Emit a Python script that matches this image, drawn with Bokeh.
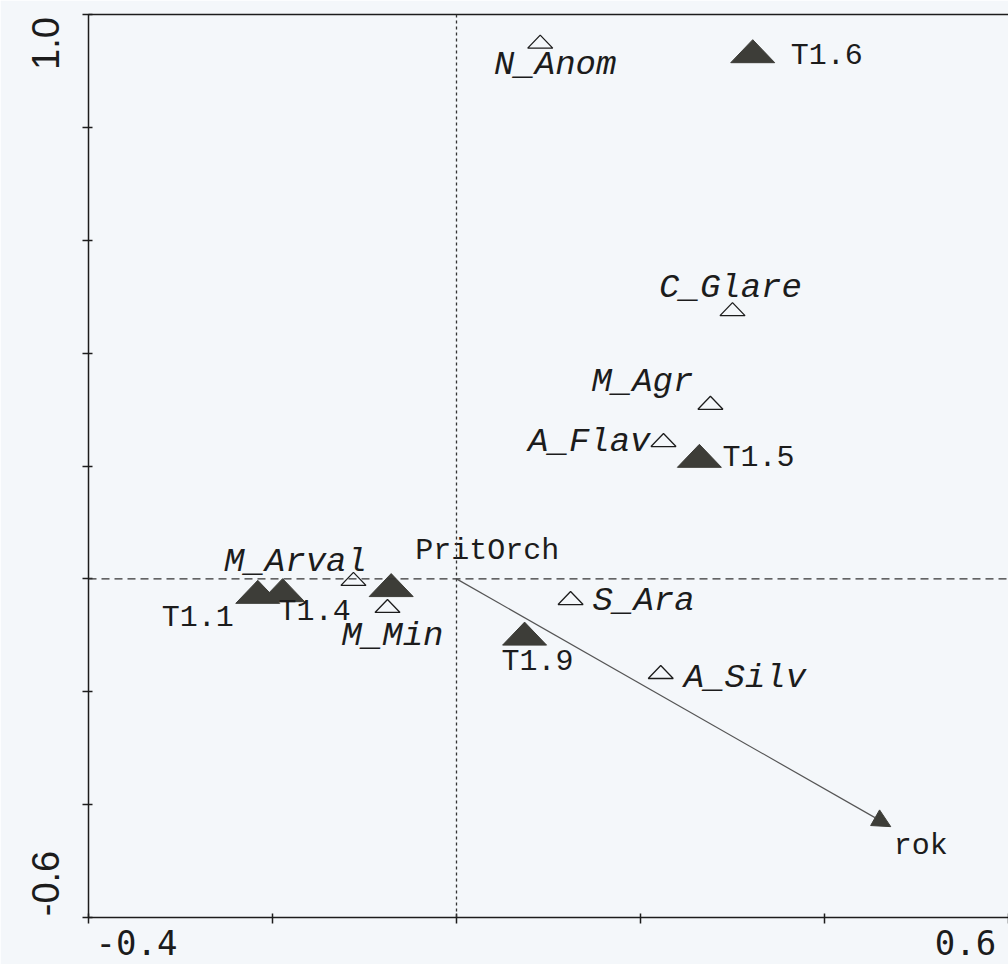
from bokeh.plotting import figure
from bokeh.models import (Range1d, FixedTicker, LinearAxis, Span, Arrow,
                          NormalHead, ColumnDataSource)
from bokeh.core.properties import value
from bokeh.embed import file_html
from bokeh.resources import INLINE

# ---------------- data ----------------
sample_names = ["T1.1", "T1.4", "PritOrch", "T1.9", "T1.5", "T1.6"]
sample_x = [-0.216, -0.189, -0.071, 0.074, 0.264, 0.322]
sample_y = [-0.023, -0.020, -0.011, -0.097, 0.218, 0.935]

species_names = ["N_Anom", "C_Glare", "M_Agr", "A_Flav", "S_Ara", "A_Silv", "M_Arval", "M_Min"]
species_x = [0.091, 0.300, 0.276, 0.225, 0.124, 0.222, -0.112, -0.075]
species_y = [0.952, 0.478, 0.312, 0.246, -0.034, -0.165, 0.000, -0.048]

env_name = ["rok"]
env_x = [0.472]
env_y = [-0.439]

x_ticks = [-0.4, -0.2, 0.0, 0.2, 0.4, 0.6]
y_ticks = [-0.6, -0.4, -0.2, 0.0, 0.2, 0.4, 0.6, 0.8, 1.0]
x_tick_labels = ["-0.4", "0.6"]
x_tick_label_at = [-0.4, 0.6]
y_tick_labels = ["-0.6", "1.0"]
y_tick_label_at = [-0.6, 1.0]

# ---------------- layout / style (pixels) ----------------
BG = "#f4f7fa"
INK = "#1c1c1c"
FILL = "#3d3d38"
X0, X1, Y0, Y1 = -0.4, 0.6, -0.6, 1.0
FRAME_W, FRAME_H = 920, 903
px_x = (X1 - X0) / FRAME_W
px_y = (Y1 - Y0) / FRAME_H

# tick labels are pushed inwards from the frame ends (pixel shifts)
x_label_shift = [48, -43]
y_label_shift = [34, -29]

sample_lab_dx = [-60, -4, 24, 13, 23, 38]
sample_lab_dy = [26, 22, -34, 28, 2, 5]
sample_lab_align = ["center", "left", "left", "center", "left", "left"]

species_lab_dx = [15, -2, -17, -13, 22, 23, -58, 5]
species_lab_dy = [23, -21, -21, 2, 3, 6, -17, 30]
species_lab_align = ["center", "center", "right", "right", "left", "left", "center", "center"]

p = figure(width=1008, height=964, output_backend="svg", toolbar_location=None,
           x_range=Range1d(X0, X1), y_range=Range1d(Y0, Y1),
           min_border_left=88, min_border_right=0, min_border_top=14, min_border_bottom=47,
           background_fill_color=BG, border_fill_color=BG, outline_line_color=None)
p.grid.visible = False

x_lab_pos = [v + s * px_x for v, s in zip(x_tick_label_at, x_label_shift)]
y_lab_pos = [v + s * px_y for v, s in zip(y_tick_label_at, y_label_shift)]

xa = p.xaxis[0]
xa.ticker = FixedTicker(ticks=x_lab_pos, minor_ticks=x_ticks)
xa.major_label_overrides = {pos: t for pos, t in zip(x_lab_pos, x_tick_labels)}
xa.major_label_text_font = "DejaVu Sans Mono"
xa.major_label_text_font_size = "34px"
xa.major_label_standoff = 6

ya = p.yaxis[0]
ya.ticker = FixedTicker(ticks=y_lab_pos, minor_ticks=y_ticks)
ya.major_label_overrides = {pos: t for pos, t in zip(y_lab_pos, y_tick_labels)}
ya.major_label_orientation = "vertical"
ya.major_label_text_font = "Liberation Sans"
ya.major_label_text_font_size = "38px"
ya.major_label_standoff = 24

for ax in (xa, ya):
    ax.major_tick_line_color = None
    ax.major_tick_in = 0
    ax.major_tick_out = 0
    ax.minor_tick_in = 4
    ax.minor_tick_out = 6
    ax.minor_tick_line_color = INK
    ax.minor_tick_line_width = 1.5
    ax.axis_line_color = INK
    ax.axis_line_width = 1.5
    ax.major_label_text_color = INK

top = LinearAxis(ticker=FixedTicker(ticks=[]), axis_line_color=INK, axis_line_width=1.5,
                 major_tick_line_color=None, minor_tick_line_color=None,
                 major_label_text_font_size="1px", major_label_standoff=0)
p.add_layout(top, "above")

# reference lines through origin
p.add_layout(Span(location=0, dimension="height", line_color="#333333",
                  line_width=1.3, line_dash="3 3"))
p.add_layout(Span(location=0, dimension="width", line_color="#333333",
                  line_width=1.2, line_dash="8 5"))

# environmental arrow
p.add_layout(Arrow(x_start=0, y_start=0, x_end=env_x[0], y_end=env_y[0],
                   line_color="#555555", line_width=1.2,
                   end=NormalHead(size=18, fill_color=FILL, line_color=FILL)))


def tri(xs, ys, w, h):
    hw, hh = w / 2 * px_x, h / 2 * px_y
    txs = [[x - hw, x + hw, x] for x in xs]
    tys = [[y - hh, y - hh, y + hh] for y in ys]
    return txs, tys

sx, sy = tri(species_x, species_y, 25, 13)
p.patches(sx, sy, fill_color=None, line_color=INK, line_width=1.3)

fx, fy = tri(sample_x, sample_y, 44, 23)
p.patches(fx, fy, fill_color=FILL, line_color=FILL, line_width=1)

mono = value("Liberation Mono")

s_src = ColumnDataSource(dict(x=sample_x, y=sample_y, t=sample_names,
                              dx=sample_lab_dx, dy=sample_lab_dy, al=sample_lab_align))
p.text(x="x", y="y", text="t", x_offset="dx", y_offset="dy", text_align="al",
       text_baseline="middle", text_font=mono, text_font_size="30px",
       text_color=INK, source=s_src)

sp_src = ColumnDataSource(dict(x=species_x, y=species_y, t=species_names,
                               dx=species_lab_dx, dy=species_lab_dy, al=species_lab_align))
p.text(x="x", y="y", text="t", x_offset="dx", y_offset="dy", text_align="al",
       text_baseline="middle", text_font=mono, text_font_style="italic",
       text_font_size="34px", text_color=INK, source=sp_src)

p.text(x=env_x, y=env_y, text=env_name, x_offset=3, y_offset=19, text_align="left",
       text_baseline="middle", text_font=mono, text_font_size="30px", text_color=INK)

open("out.html", "w").write(file_html(p, INLINE))
